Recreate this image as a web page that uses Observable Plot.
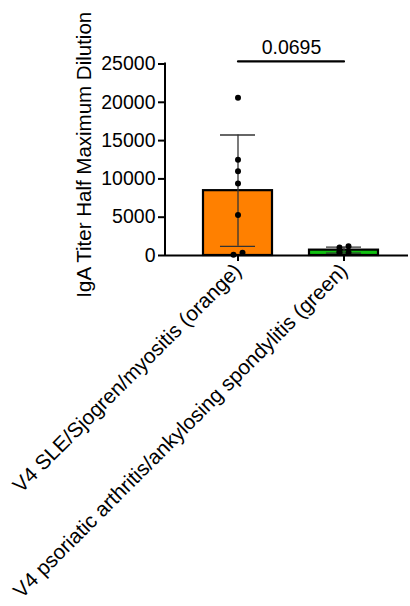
<!DOCTYPE html>
<html>
<head>
<meta charset="utf-8">
<script src="https://cdn.jsdelivr.net/npm/d3@7"></script>
<script src="https://cdn.jsdelivr.net/npm/@observablehq/plot@0.6"></script>
<style>
  html, body { margin: 0; padding: 0; background: white; }
  #chart svg { display: block; }
</style>
</head>
<body>
<div id="chart"></div>
<script>
// ---- data ----
const categories = [
  "V4 SLE/Sjogren/myositis (orange)",
  "V4 psoriatic arthritis/ankylosing spondylitis (green)"
];
const orangeValues = [20600, 12500, 11000, 9400, 5300, 100, 350];
const greenValues = [1050, 1200, 500, 400, 350];
const barColors = ["#ff8000", "#11c011"];
const yTicks = [0, 5000, 10000, 15000, 20000, 25000];
const yLabel = "IgA Titer Half Maximum Dilution";
const pValueLabel = "0.0695";

// ---- derived tables ----
const groups = [orangeValues, greenValues];
const summary = categories.map((cat, i) => {
  const m = d3.mean(groups[i]);
  const s = d3.deviation(groups[i]);
  return {cat, mean: m, lo: m - s, hi: m + s};
});

// simple overlap spreading of points (alternate left/right inside close clusters)
const points = [];
categories.forEach((cat, i) => {
  const vals = groups[i].slice().sort((a, b) => a - b);
  let cluster = [];
  const flush = () => {
    cluster.forEach((v, k) => points.push({cat, value: v, side: cluster.length === 1 ? 0 : (k % 2 === 0 ? -1 : 1)}));
    cluster = [];
  };
  vals.forEach(v => {
    if (cluster.length && v - cluster[cluster.length - 1] > 500) flush();
    cluster.push(v);
  });
  flush();
});

const W = 410, H = 606;
const mL = 165, mT = 63.5, mB = 351, mR = 2;
const xRange = [165, 416];
const pad = 0.346;
const step = (xRange[1] - xRange[0]) / (categories.length - pad + 2 * pad);
const bw = step * (1 - pad);
const jit = 4.5;
const sigY = 25330;
const font = "'Liberation Sans', Arial, Helvetica, sans-serif";

const chart = Plot.plot({
  width: W,
  height: H,
  marginLeft: mL,
  marginRight: mR,
  marginTop: mT,
  marginBottom: mB,
  style: {fontFamily: font, color: "black", background: "white"},
  x: {domain: categories, range: xRange, paddingInner: pad, paddingOuter: pad},
  y: {domain: [0, 25000]},
  color: {domain: categories, range: barColors},
  marks: [
    Plot.barY(summary, {x: "cat", y: "mean", fill: "cat", stroke: "black", strokeWidth: 2.2}),
    Plot.ruleX(summary, {x: "cat", y1: "lo", y2: "hi", stroke: "#333", strokeWidth: 1.3}),
    Plot.tickY(summary, {x: "cat", y: "hi", stroke: "#333", strokeWidth: 1.3, insetLeft: (bw - 36) / 2, insetRight: (bw - 36) / 2}),
    Plot.tickY(summary, {x: "cat", y: "lo", stroke: "#333", strokeWidth: 1.3, insetLeft: (bw - 36) / 2, insetRight: (bw - 36) / 2}),
    ...[-1, 0, 1].map(side => Plot.dot(points.filter(p => p.side === side), {x: "cat", y: "value", r: 3, fill: "black", stroke: "none", dx: side * jit})),
    Plot.ruleY([0], {stroke: "black", strokeWidth: 2}),
    Plot.axisY(yTicks, {tickSize: 7, tickPadding: 3, fontSize: 19.5, strokeWidth: 2, tickFormat: d => String(d), label: null}),
    Plot.axisX({tickSize: 6, tickPadding: 6, tickRotate: -45, fontSize: 20.8, strokeWidth: 2, label: null}),
    Plot.line([{cat: categories[0], y: sigY}, {cat: categories[1], y: sigY}], {x: "cat", y: "y", stroke: "black", strokeWidth: 2.2}),
    Plot.text([pValueLabel], {x: () => categories[0], y: () => sigY, text: d => d, dx: step / 2, dy: -7, lineAnchor: "bottom", fontSize: 19.5, fill: "black"}),
    Plot.text([yLabel], {frameAnchor: "left", text: d => d, rotate: -90, textAnchor: "middle", dx: -81, dy: -5, fontSize: 20.5, fill: "black"})
  ]
});

// y axis line
const svg = d3.select(chart);
const yScale = chart.scale("y");
svg.append("line")
  .attr("x1", mL).attr("x2", mL)
  .attr("y1", yScale.apply(25000) - 1).attr("y2", yScale.apply(0) + 1)
  .attr("stroke", "black").attr("stroke-width", 2);

document.getElementById("chart").appendChild(chart);
</script>
</body>
</html>
